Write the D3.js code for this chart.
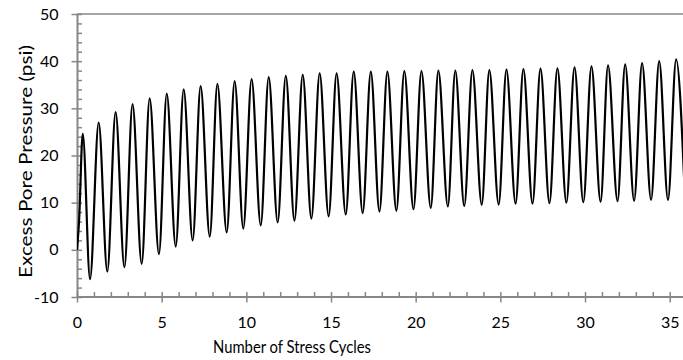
<!DOCTYPE html>
<html>
<head>
<meta charset="utf-8">
<script src="https://cdn.jsdelivr.net/npm/d3@7/dist/d3.min.js"></script>
<style>
  html, body { margin: 0; padding: 0; background: #fff; }
  svg { display: block; }
  text { font-family: Lato, "Open Sans", sans-serif; fill: #000; }
</style>
</head>
<body>
<svg id="chart" width="683" height="360"></svg>
<script>
// ---- Data (cycle peaks and troughs) ----
const startX = [0, 0.12];
const startY = [0, 6];

const peakX = [0.34, 1.28, 2.28, 3.28, 4.29, 5.30, 6.30, 7.30, 8.29, 9.31,
  10.31, 11.32, 12.33, 13.33, 14.33, 15.33, 16.34, 17.35, 18.33, 19.33,
  20.34, 21.34, 22.34, 23.35, 24.35, 25.36, 26.36, 27.37, 28.37, 29.38,
  30.38, 31.36, 32.37, 33.37, 34.38, 35.38];
const peakY = [24.6, 27.0, 29.2, 30.9, 32.1, 33.1, 34.0, 34.7, 35.2, 35.8,
  36.2, 36.6, 36.9, 37.1, 37.4, 37.4, 37.8, 37.8, 37.8, 37.9,
  37.9, 38.0, 38.0, 38.1, 38.1, 38.2, 38.3, 38.4, 38.5, 38.7,
  38.9, 39.1, 39.3, 39.6, 40.0, 40.4];

const troughX = [0.77, 1.79, 2.80, 3.82, 4.84, 5.83, 6.83, 7.84, 8.84, 9.82,
  10.85, 11.85, 12.84, 13.84, 14.86, 15.87, 16.87, 17.86, 18.86, 19.87,
  20.89, 21.90, 22.87, 23.90, 24.90, 25.90, 26.90, 27.90, 28.90, 29.90,
  30.92, 31.92, 32.90, 33.90, 34.90];
const troughY = [-6.2, -4.6, -3.7, -3.0, -0.9, 0.7, 2.0, 2.8, 3.7, 4.5,
  5.2, 5.8, 6.2, 6.6, 7.1, 7.5, 7.8, 8.1, 8.3, 8.6,
  8.9, 9.2, 9.3, 9.55, 9.6, 9.8, 9.8, 9.9, 10.0, 10.1,
  10.2, 10.3, 10.4, 10.6, 10.6];

const endX = [35.9];
const endY = [11.0];

const xTicks = [0, 5, 10, 15, 20, 25, 30, 35];
const yTicks = [-10, 0, 10, 20, 30, 40, 50];
const xTitle = "Number of Stress Cycles";
const yTitle = "Excess Pore Pressure (psi)";

// ---- Build the point table ----
const points = [];
startX.forEach((v, i) => points.push({x: v, y: startY[i]}));
peakX.forEach((v, i) => points.push({x: v, y: peakY[i]}));
troughX.forEach((v, i) => points.push({x: v, y: troughY[i]}));
endX.forEach((v, i) => points.push({x: v, y: endY[i]}));
points.sort((a, b) => a.x - b.x);

// ---- Layout ----
const svg = d3.select("#chart");
const mLeft = 77, mTop = 14, mBottom = 297;
const pxPerUnit = 16.934;
const xs = d3.scaleLinear().domain([0, 36]).range([mLeft, mLeft + 36 * pxPerUnit]);
const ys = d3.scaleLinear().domain([-10, 50]).range([mBottom, mTop]);
const axisColor = "#878787";
const fmt = d => String(d);

svg.append("defs").append("clipPath").attr("id", "plotclip")
  .append("rect").attr("x", mLeft).attr("y", mTop - 2)
  .attr("width", 683 - mLeft).attr("height", mBottom - mTop + 4);

// top gridline at 50
svg.append("line")
  .attr("x1", xs(0)).attr("x2", 683)
  .attr("y1", ys(50)).attr("y2", ys(50))
  .attr("stroke", axisColor).attr("stroke-width", 1.6);

// Y axis minor ticks (inside)
const yMinor = d3.range(-10, 50.01, 2).filter(v => v % 10 !== 0);
svg.append("g").attr("transform", `translate(${mLeft},0)`)
  .call(d3.axisRight(ys).tickValues(yMinor).tickSize(5).tickFormat(""))
  .call(g => g.select(".domain").remove())
  .call(g => g.selectAll("line").attr("stroke", axisColor).attr("stroke-width", 1.5));

// X axis minor ticks (inside)
const xMinor = d3.range(0, 36.01, 1).filter(v => v % 5 !== 0);
svg.append("g").attr("transform", `translate(0,${mBottom})`)
  .call(d3.axisTop(xs).tickValues(xMinor).tickSize(5).tickFormat(""))
  .call(g => g.select(".domain").remove())
  .call(g => g.selectAll("line").attr("stroke", axisColor).attr("stroke-width", 1.5));

// Y axis major
const yAxis = svg.append("g").attr("transform", `translate(${mLeft},0)`)
  .call(d3.axisLeft(ys).tickValues(yTicks).tickFormat(fmt).tickSize(5.5).tickPadding(13).tickSizeOuter(0));
yAxis.select(".domain").attr("stroke", axisColor).attr("stroke-width", 2);
yAxis.selectAll(".tick line").attr("stroke", axisColor).attr("stroke-width", 1.5)
  .attr("x2", -5.5).attr("x1", 5);
yAxis.selectAll(".tick text").attr("font-size", 16).attr("font-family", "Lato, sans-serif").attr("fill", "#000");

// X axis major
const xAxis = svg.append("g").attr("transform", `translate(0,${mBottom})`)
  .call(d3.axisBottom(xs).tickValues(xTicks).tickFormat(fmt).tickSize(5.5).tickPadding(14).tickSizeOuter(0));
xAxis.select(".domain").attr("stroke", axisColor).attr("stroke-width", 2)
  .attr("d", `M${xs(0)},0H683`);
xAxis.selectAll(".tick line").attr("stroke", axisColor).attr("stroke-width", 1.5)
  .attr("y1", -5).attr("y2", 5.5);
xAxis.selectAll(".tick text").attr("font-size", 16).attr("font-family", "Lato, sans-serif").attr("fill", "#000");

// Data line
const line = d3.line().x(d => xs(d.x)).y(d => ys(d.y)).curve(d3.curveMonotoneX);
svg.append("path")
  .datum(points)
  .attr("clip-path", "url(#plotclip)")
  .attr("fill", "none")
  .attr("stroke", "#000")
  .attr("stroke-width", 2.2)
  .attr("stroke-linejoin", "round")
  .attr("d", line);

// Titles
svg.append("text")
  .attr("x", 292).attr("y", 353)
  .attr("text-anchor", "middle")
  .attr("font-size", 17.5)
  .attr("textLength", 158).attr("lengthAdjust", "spacingAndGlyphs")
  .text(xTitle);

svg.append("text")
  .attr("transform", "translate(32,161.5) rotate(-90)")
  .attr("text-anchor", "middle")
  .attr("font-size", 18)
  .attr("textLength", 233).attr("lengthAdjust", "spacingAndGlyphs")
  .text(yTitle);
</script>
</body>
</html>
